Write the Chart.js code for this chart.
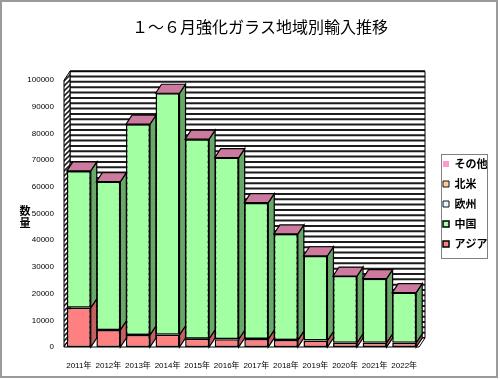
<!DOCTYPE html>
<html><head><meta charset="utf-8">
<script src="https://cdn.jsdelivr.net/npm/chart.js@4.4.1/dist/chart.umd.min.js"></script>
<style>html,body{margin:0;padding:0;background:#fff}canvas{display:block}</style>
</head><body>
<canvas id="c" width="500" height="380"></canvas>
<script>
// ---- data ----
const chartTitle = '１～６月強化ガラス地域別輸入推移';
const yAxisTitle = '数量';
const categories = ['2011年','2012年','2013年','2014年','2015年','2016年','2017年','2018年','2019年','2020年','2021年','2022年'];
const asiaValues  = [14700, 6400, 4500, 4600, 3100, 2900, 3000, 2600, 2400, 1600, 1600, 1600];
const chinaValues = [51300, 55600, 79000, 90500, 74800, 68100, 51100, 39800, 31800, 25000, 24000, 18800];
const europeValues = [0,0,0,0,0,0,0,0,0,0,0,0];
const northAmericaValues = [0,0,0,0,0,0,0,0,0,0,0,0];
const otherValues = [0,0,0,0,0,0,0,0,0,0,0,0];
const seriesNames = ['アジア','中国','欧州','北米','その他'];
const yMin = 0, yMax = 100000, yStep = 10000, wallStripeStep = 2000;

// ---- style ----
const frontColors = ['#FF8080', '#A2FFA2', '#E6F6FF', '#FFCC99', '#FF99CC'];
const sideColors  = ['#C46060', '#68A868', '#9AAAB8', '#C09060', '#C07090'];
const capColor = '#CC7A9E';
const DX = 6, DY = -9;
const legendFont = {size: 11, weight: 'bold', family: '"Noto Sans CJK JP"'};
const legendPad = 9, legendBox = 6;

// measure legend width so the plot area ends where the reference's does
const mctx = document.createElement('canvas').getContext('2d');
mctx.font = 'bold 11px "Noto Sans CJK JP"';
const maxLabelW = Math.max(...seriesNames.map(s => mctx.measureText(s).width));
const legendW = 2 * legendPad + legendBox + legendFont.size / 2 + maxLabelW;
const padRight = Math.max(0, 80 - legendW);

function poly(ctx, pts, fill, stroke, lw) {
  ctx.beginPath();
  ctx.moveTo(pts[0][0], pts[0][1]);
  for (let i = 1; i < pts.length; i++) ctx.lineTo(pts[i][0], pts[i][1]);
  ctx.closePath();
  if (fill) { ctx.fillStyle = fill; ctx.fill(); }
  if (stroke) { ctx.strokeStyle = stroke; ctx.lineWidth = lw || 1; ctx.stroke(); }
}
function hatchPattern(ctx) {
  const p = document.createElement('canvas');
  p.width = 5; p.height = 5;
  const c = p.getContext('2d');
  c.fillStyle = '#fff'; c.fillRect(0, 0, 5, 5);
  c.strokeStyle = '#222'; c.lineWidth = 1.6;
  c.beginPath();
  c.moveTo(-1, 6); c.lineTo(6, -1);
  c.moveTo(-1, 1); c.lineTo(1, -1);
  c.moveTo(4, 6); c.lineTo(6, 4);
  c.stroke();
  return ctx.createPattern(p, 'repeat');
}

const threeD = {
  id: 'threeD',
  afterLayout(chart) {
    const lg = chart.legend;
    const w = lg.right - lg.left;
    lg.left = 443 - legendPad; lg.right = lg.left + w;
    lg.top += 14; lg.bottom += 14;
    const tb = chart.titleBlock;
    const shift = 260 - (tb.left + tb.right) / 2;
    tb.left += shift; tb.right += shift;
  },
  beforeDatasetsDraw(chart) {
    const {ctx, chartArea: a, scales: {y}} = chart;
    const L = a.left, R = a.right, T = y.getPixelForValue(yMax), B = y.getPixelForValue(yMin);
    ctx.save();
    // back wall
    poly(ctx, [[L+DX,T+DY],[R+DX,T+DY],[R+DX,B+DY],[L+DX,B+DY]], '#fff');
    ctx.strokeStyle = '#1c1c1c'; ctx.lineWidth = 2;
    for (let v = yMin; v <= yMax; v += wallStripeStep) {
      const py = y.getPixelForValue(v) + DY;
      ctx.beginPath(); ctx.moveTo(L+DX, py); ctx.lineTo(R+DX, py); ctx.stroke();
    }
    poly(ctx, [[L+DX,T+DY],[R+DX,T+DY],[R+DX,B+DY],[L+DX,B+DY]], null, '#000', 1);
    // left wall
    poly(ctx, [[L,T],[L+DX,T+DY],[L+DX,B+DY],[L,B]], hatchPattern(ctx), '#000', 1);
    // floor
    poly(ctx, [[L,B],[R,B],[R+DX,B+DY],[L+DX,B+DY]], '#fff', '#000', 1);
    // bar sides and caps
    const n = categories.length;
    for (let i = 0; i < n; i++) {
      let topEl = null;
      chart.data.datasets.forEach((ds, d) => {
        const meta = chart.getDatasetMeta(d);
        const el = meta.data[i];
        if (!el) return;
        const p = el.getProps(['x','y','base','width'], true);
        const top = Math.min(p.y, p.base), bot = Math.max(p.y, p.base);
        if (bot - top < 0.5) return;
        const right = p.x + p.width/2;
        poly(ctx, [[right,top],[right+DX,top+DY],[right+DX,bot+DY],[right,bot]], sideColors[d], '#000', 1.2);
        if (!topEl || top < topEl.top) topEl = {top, left: p.x - p.width/2, right};
      });
      if (topEl) {
        const {top, left, right} = topEl;
        poly(ctx, [[left,top],[left+DX,top+DY],[right+DX,top+DY],[right,top]], capColor, '#000', 1.2);
      }
    }
    ctx.restore();
  },
  afterDraw(chart) {
    const {ctx} = chart;
    ctx.save();
    // legend frame
    const lg = chart.legend;
    const cy = lg.top + lg.height / 2;
    ctx.strokeStyle = '#808080'; ctx.lineWidth = 1;
    ctx.strokeRect(Math.round(lg.left + legendPad - 2) + 0.5, Math.round(cy - 50) + 0.5, 46, 104);
    // y axis title (vertical stacked)
    ctx.fillStyle = '#000';
    ctx.font = 'bold 11px "Noto Sans CJK JP"';
    ctx.textAlign = 'center'; ctx.textBaseline = 'middle';
    [...yAxisTitle].forEach((ch, k) => ctx.fillText(ch, 25, 211 + k * 12));
    // outer frame
    ctx.strokeStyle = '#9a9a9a'; ctx.lineWidth = 2;
    ctx.strokeRect(1, 1, 496, 376);
    ctx.restore();
  }
};

const datasets = [
  {label: seriesNames[0], data: asiaValues, backgroundColor: frontColors[0], borderColor: '#000', borderWidth: 1.5, borderSkipped: false},
  {label: seriesNames[1], data: chinaValues, backgroundColor: frontColors[1], borderColor: '#000', borderWidth: 1.5, borderSkipped: false},
  {label: seriesNames[2], data: europeValues, backgroundColor: frontColors[2], borderColor: '#111', borderWidth: 1},
  {label: seriesNames[3], data: northAmericaValues, backgroundColor: frontColors[3], borderColor: '#111', borderWidth: 1},
  {label: seriesNames[4], data: otherValues, backgroundColor: frontColors[4], borderColor: frontColors[4], borderWidth: 0}
];

new Chart(document.getElementById('c'), {
  type: 'bar',
  data: {labels: categories, datasets},
  plugins: [threeD],
  options: {
    responsive: false,
    animation: false,
    events: [],
    layout: {padding: {left: 20, right: padRight, top: 0, bottom: 0}},
    datasets: {bar: {categoryPercentage: 1, barPercentage: 0.81}},
    plugins: {
      title: {
        display: true, text: chartTitle, color: '#000',
        font: {size: 16, weight: 'normal', family: '"Noto Sans CJK JP"'},
        padding: {top: 17, bottom: 44}
      },
      legend: {
        position: 'right', reverse: true,
        labels: {boxWidth: legendBox, boxHeight: legendBox, padding: legendPad, color: '#000', font: legendFont}
      },
      tooltip: {enabled: false}
    },
    scales: {
      x: {
        stacked: true,
        grid: {display: false}, border: {display: false},
        ticks: {color: '#000', padding: 6, maxRotation: 0, autoSkip: false,
          font: {size: 8, family: '"Liberation Sans", "Noto Sans CJK JP"'}},
        afterFit(s) { s.height = 33; }
      },
      y: {
        stacked: true, min: yMin, max: yMax,
        grid: {display: false, drawTicks: false}, border: {display: false},
        ticks: {stepSize: yStep, color: '#000', padding: 10,
          font: {size: 8, family: '"Liberation Sans"'},
          callback: v => String(v)},
        afterFit(s) { s.width = 44; }
      }
    }
  }
});
</script>
</body></html>
